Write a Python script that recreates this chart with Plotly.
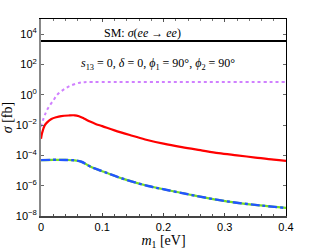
import plotly.graph_objects as go

# ---- data ----
sm_m1 = [0.0, 0.4]
sm_sigma = [3600, 3600]

mag_m1 = [0.0, 0.003, 0.006, 0.011, 0.02, 0.028, 0.039, 0.049, 0.063, 0.071, 0.1, 0.2, 0.3, 0.4]
mag_sigma = [7.9e-3, 2.0e-2, 4.4e-2, 0.12, 0.42, 1.17, 2.5, 4.1, 6.2, 6.8, 6.9, 6.9, 6.9, 6.9]

red_m1 = [0.0, 0.002, 0.006, 0.01, 0.017, 0.025, 0.033, 0.045, 0.055, 0.062, 0.07, 0.08,
          0.09, 0.1, 0.12, 0.145, 0.17, 0.2, 0.23, 0.26, 0.29, 0.32, 0.35, 0.38, 0.4]
red_sigma = [1.26e-3, 3.2e-3, 9.5e-3, 1.5e-2, 2.5e-2, 3.3e-2, 3.9e-2, 4.3e-2, 4.4e-2, 3.8e-2,
             2.75e-2, 1.7e-2, 1.15e-2, 8.5e-3, 4.5e-3, 2.2e-3, 1.12e-3, 5.9e-4, 3.5e-4,
             2.2e-4, 1.4e-4, 1.0e-4, 7.2e-5, 5.2e-5, 4.4e-5]

blue_m1 = [0.0, 0.02, 0.04, 0.055, 0.066, 0.082, 0.104, 0.137, 0.175, 0.202, 0.249, 0.303, 0.358, 0.4]
blue_sigma = [4.9e-5, 5.1e-5, 5.0e-5, 4.7e-5, 3.8e-5, 1.7e-5, 7.9e-6, 2.6e-6, 9.5e-7,
              5.6e-7, 2.3e-7, 9.3e-8, 5.0e-8, 3.4e-8]

y_tickvals = [1e-8, 1e-6, 1e-4, 1e-2, 1e0, 1e2, 1e4]
y_ticktext = ["10<sup>−8</sup>", "10<sup>−6</sup>", "10<sup>−4</sup>", "10<sup>−2</sup>",
              "10<sup>0</sup>", "10<sup>2</sup>", "10<sup>4</sup>"]
x_tickvals = [0, 0.1, 0.2, 0.3, 0.4]
x_ticktext = ["0", "0.1", "0.2", "0.3", "0.4"]

fig = go.Figure()
fig.add_trace(go.Scatter(x=sm_m1, y=sm_sigma, mode="lines",
                         line=dict(color="black", width=2), showlegend=False))
fig.add_trace(go.Scatter(x=mag_m1, y=mag_sigma, mode="lines", line_shape="spline",
                         line=dict(color="#d080ff", width=2, dash="dot"), showlegend=False))
fig.add_trace(go.Scatter(x=red_m1, y=red_sigma, mode="lines", line_shape="spline",
                         line=dict(color="#ff0000", width=2.2), showlegend=False))
fig.add_trace(go.Scatter(x=blue_m1, y=blue_sigma, mode="lines", line_shape="spline",
                         line=dict(color="#77dd22", width=2.2), showlegend=False))
fig.add_trace(go.Scatter(x=blue_m1, y=blue_sigma, mode="lines", line_shape="spline",
                         line=dict(color="#2255ff", width=2.4, dash="dashdot"), showlegend=False))

tickfont = dict(family="Liberation Sans", size=11, color="black")
serif = "Liberation Serif"

fig.update_layout(
    width=316, height=251,
    margin=dict(l=41, r=30, t=19, b=35),
    paper_bgcolor="white", plot_bgcolor="white",
    xaxis=dict(range=[0, 0.4], tickvals=x_tickvals, ticktext=x_ticktext, automargin=False,
               showgrid=False, zeroline=False, showline=True, linecolor="#444444", linewidth=1.5,
               ticks="inside", ticklen=3, tickcolor="#444444", tickfont=tickfont,
               minor=dict(dtick=0.02, ticks="inside", ticklen=2, tickcolor="#555555"),
               title=dict(text="<i>m</i><sub>1</sub> [eV]", font=dict(family=serif, size=14, color="black"),
                          standoff=2)),
    yaxis=dict(type="log", range=[-8, 5], tickvals=y_tickvals, ticktext=y_ticktext, automargin=False,
               showgrid=False, zeroline=False, showline=True, linecolor="#888888", linewidth=2,
               ticks="inside", ticklen=3, tickcolor="#666666", tickfont=tickfont,
               title=dict(text="<i>σ</i> [fb]", font=dict(family=serif, size=14, color="black"),
                          standoff=2)),
    xaxis2=dict(range=[0, 0.4], overlaying="x", side="top", matches="x", automargin=False,
                tickvals=x_tickvals, showticklabels=False, showgrid=False, zeroline=False,
                showline=True, linecolor="black", linewidth=1, ticks="inside", ticklen=3,
                tickcolor="#555555",
                minor=dict(dtick=0.02, ticks="inside", ticklen=2, tickcolor="#777777")),
    yaxis2=dict(type="log", range=[-8, 5], overlaying="y", side="right", anchor="x", automargin=False,
                tickvals=y_tickvals, showticklabels=False, showgrid=False, zeroline=False,
                showline=True, linecolor="black", linewidth=1, ticks="inside", ticklen=3,
                tickcolor="#666666"),
)
# invisible trace to activate overlay axes
fig.add_trace(go.Scatter(x=[0], y=[1], xaxis="x2", yaxis="y2", mode="markers",
                         marker=dict(opacity=0), showlegend=False, hoverinfo="skip"))

fig.add_annotation(x=0.165, y=4.07, xref="x", yref="y", showarrow=False,
                   text="SM: <i>σ</i>(<i>ee</i> → <i>ee</i>)",
                   font=dict(family=serif, size=12, color="black"))
fig.add_annotation(x=0.191, y=2.0, xref="x", yref="y", showarrow=False,
                   text="<i>s</i><sub>13</sub> = 0, <i>δ</i> = 0, <i>ϕ</i><sub>1</sub> = 90°, <i>ϕ</i><sub>2</sub> = 90°",
                   font=dict(family=serif, size=12, color="black"))

fig.write_html("out.html", config={"displayModeBar": False},
               post_script="document.body.style.margin='0';document.body.style.overflow='hidden';")
